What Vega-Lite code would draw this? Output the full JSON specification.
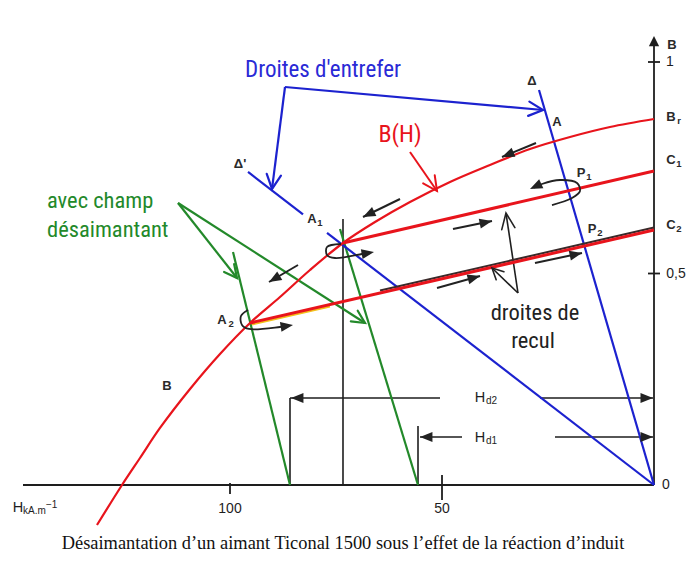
{
  "$schema": "https://vega.github.io/schema/vega-lite/v6.json",
  "width": 696,
  "height": 563,
  "autosize": {"type": "fit", "contains": "padding"},
  "padding": 0,
  "background": "white",
  "config": {"view": {"stroke": null}},
  "datasets": {
    "L": [
      {"g":"ax","id":"hx","o":1,"H":148.82,"B":0},{"g":"ax","id":"hx","o":2,"H":0,"B":0},
      {"g":"ax","id":"vy","o":1,"H":0,"B":0},{"g":"ax","id":"vy","o":2,"H":0,"B":1.0402},
      {"g":"ax","id":"t1","o":1,"H":1.42,"B":1},{"g":"ax","id":"t1","o":2,"H":-1.42,"B":1},
      {"g":"ax","id":"t05","o":1,"H":1.42,"B":0.5},{"g":"ax","id":"t05","o":2,"H":-1.42,"B":0.5},
      {"g":"ax","id":"t100","o":1,"H":100,"B":0.005},{"g":"ax","id":"t100","o":2,"H":100,"B":-0.021},
      {"g":"ax","id":"t50","o":1,"H":50,"B":0.0236},{"g":"ax","id":"t50","o":2,"H":50,"B":-0.0355},

      {"g":"bk","id":"vA1","o":1,"H":73.35,"B":0.6288},{"g":"bk","id":"vA1","o":2,"H":73.35,"B":0},
      {"g":"bk","id":"vd2","o":1,"H":85.85,"B":0.2057},{"g":"bk","id":"vd2","o":2,"H":85.85,"B":0},
      {"g":"bk","id":"d2l","o":1,"H":85.85,"B":0.2057},{"g":"bk","id":"d2l","o":2,"H":50.47,"B":0.2057},
      {"g":"bk","id":"d2r","o":1,"H":26.89,"B":0.2057},{"g":"bk","id":"d2r","o":2,"H":0.24,"B":0.2057},
      {"g":"bk","id":"vd1","o":1,"H":55.66,"B":0.1395},{"g":"bk","id":"vd1","o":2,"H":55.66,"B":0},
      {"g":"bk","id":"d1l","o":1,"H":45.28,"B":0.1135},{"g":"bk","id":"d1l","o":2,"H":55.19,"B":0.1135},
      {"g":"bk","id":"d1r","o":1,"H":23.35,"B":0.1135},{"g":"bk","id":"d1r","o":2,"H":0.24,"B":0.1135},
      {"g":"bk","id":"rc1","o":1,"H":32.08,"B":0.4539},{"g":"bk","id":"rc1","o":2,"H":34.91,"B":0.643},
      {"g":"bk","id":"rc2","o":1,"H":32.08,"B":0.4539},{"g":"bk","id":"rc2","o":2,"H":38.21,"B":0.513},

      {"g":"gr","id":"g1","o":1,"H":99.29,"B":0.5508},{"g":"gr","id":"g1","o":2,"H":85.85,"B":0},
      {"g":"gr","id":"g2","o":1,"H":74.06,"B":0.6052},{"g":"gr","id":"g2","o":2,"H":55.66,"B":0},
      {"g":"gr","id":"a1","o":1,"H":112.26,"B":0.6667},{"g":"gr","id":"a1","o":2,"H":98.35,"B":0.4894},
      {"g":"gr","id":"a2","o":1,"H":112.26,"B":0.6667},{"g":"gr","id":"a2","o":2,"H":68.16,"B":0.383},

      {"g":"bl","id":"d","o":1,"H":27.12,"B":0.9338},{"g":"bl","id":"d","o":2,"H":0,"B":0},
      {"g":"bl","id":"dp1","o":1,"H":95.75,"B":0.74},{"g":"bl","id":"dp1","o":2,"H":82.78,"B":0.6397},
      {"g":"bl","id":"dp2","o":1,"H":77.12,"B":0.596},{"g":"bl","id":"dp2","o":2,"H":0,"B":0},
      {"g":"bl","id":"an1","o":1,"H":87.03,"B":0.9409},{"g":"bl","id":"an1","o":2,"H":26.18,"B":0.8865},
      {"g":"bl","id":"an2","o":1,"H":87.03,"B":0.9409},{"g":"bl","id":"an2","o":2,"H":90.09,"B":0.6998},

      {"g":"yl","id":"y","o":1,"H":94.81,"B":0.3794},{"g":"yl","id":"y","o":2,"H":76.42,"B":0.4218},
      {"g":"dk","id":"k","o":1,"H":64.62,"B":0.4596},{"g":"dk","id":"k","o":2,"H":0,"B":0.6087},
      {"g":"rec","id":"c1","o":1,"H":73.35,"B":0.5721},{"g":"rec","id":"c1","o":2,"H":0,"B":0.7423},
      {"g":"rec","id":"c2","o":1,"H":95.28,"B":0.383},{"g":"rec","id":"c2","o":2,"H":0,"B":0.6028},

      {"g":"bh","id":"bh","o":1,"H":0,"B":0.8652},
      {"g":"bh","id":"bh","o":2,"H":10.38,"B":0.8463},
      {"g":"bh","id":"bh","o":3,"H":19.81,"B":0.8227},
      {"g":"bh","id":"bh","o":4,"H":29.25,"B":0.7943},
      {"g":"bh","id":"bh","o":5,"H":38.68,"B":0.7565},
      {"g":"bh","id":"bh","o":6,"H":48.11,"B":0.7163},
      {"g":"bh","id":"bh","o":7,"H":57.55,"B":0.669},
      {"g":"bh","id":"bh","o":8,"H":65.8,"B":0.6217},
      {"g":"bh","id":"bh","o":9,"H":73.35,"B":0.5721},
      {"g":"bh","id":"bh","o":10,"H":81.13,"B":0.5083},
      {"g":"bh","id":"bh","o":11,"H":88.21,"B":0.4444},
      {"g":"bh","id":"bh","o":12,"H":95.28,"B":0.383},
      {"g":"bh","id":"bh","o":13,"H":102.36,"B":0.3097},
      {"g":"bh","id":"bh","o":14,"H":109.43,"B":0.227},
      {"g":"bh","id":"bh","o":15,"H":116.51,"B":0.1348},
      {"g":"bh","id":"bh","o":16,"H":121.23,"B":0.0638},
      {"g":"bh","id":"bh","o":17,"H":125.47,"B":0},
      {"g":"bh","id":"bh","o":18,"H":131.37,"B":-0.0946},

      {"g":"rd","id":"bha","o":1,"H":57.55,"B":0.7872},{"g":"rd","id":"bha","o":2,"H":51.18,"B":0.695},

      {"g":"ar","id":"ar1","o":1,"H":27.83,"B":0.8085},{"g":"ar","id":"ar1","o":2,"H":35.85,"B":0.7754},
      {"g":"ar","id":"ar2","o":1,"H":59.91,"B":0.6761},{"g":"ar","id":"ar2","o":2,"H":68.63,"B":0.6336},
      {"g":"ar","id":"ar3","o":1,"H":83.96,"B":0.5201},{"g":"ar","id":"ar3","o":2,"H":90.8,"B":0.4799},
      {"g":"ar","id":"ar4","o":1,"H":47.41,"B":0.6052},{"g":"ar","id":"ar4","o":2,"H":38.21,"B":0.6241},
      {"g":"ar","id":"ar5","o":1,"H":51.18,"B":0.4657},{"g":"ar","id":"ar5","o":2,"H":41.04,"B":0.4941},
      {"g":"ar","id":"ar6","o":1,"H":28.07,"B":0.5248},{"g":"ar","id":"ar6","o":2,"H":16.98,"B":0.5485},

      {"g":"lp","id":"lA1","o":1,"H":73.82,"B":0.5697},
      {"g":"lp","id":"lA1","o":2,"H":77.12,"B":0.5626},
      {"g":"lp","id":"lA1","o":3,"H":77.12,"B":0.5437},
      {"g":"lp","id":"lA1","o":4,"H":75.24,"B":0.5366},
      {"g":"lp","id":"lA1","o":5,"H":68.87,"B":0.5461},
      {"g":"lp","id":"lA1","o":6,"H":67.45,"B":0.5485},
      {"g":"lp","id":"lA2","o":1,"H":95.75,"B":0.4137},
      {"g":"lp","id":"lA2","o":2,"H":97.41,"B":0.3995},
      {"g":"lp","id":"lA2","o":3,"H":97.17,"B":0.3783},
      {"g":"lp","id":"lA2","o":4,"H":95.52,"B":0.3688},
      {"g":"lp","id":"lA2","o":5,"H":88.21,"B":0.3735},
      {"g":"lp","id":"lA2","o":6,"H":86.5,"B":0.376},
      {"g":"lp","id":"lP1","o":1,"H":24.06,"B":0.6619},
      {"g":"lp","id":"lP1","o":2,"H":19.34,"B":0.6785},
      {"g":"lp","id":"lP1","o":3,"H":17.45,"B":0.695},
      {"g":"lp","id":"lP1","o":4,"H":18.16,"B":0.7139},
      {"g":"lp","id":"lP1","o":5,"H":22.17,"B":0.721},
      {"g":"lp","id":"lP1","o":6,"H":26.42,"B":0.7116},
      {"g":"lp","id":"lP1","o":7,"H":28.3,"B":0.703}
    ],
    "P": [
      {"g":"blV","H":26.18,"B":0.8865,"a":5.1},
      {"g":"blV","H":90.09,"B":0.6998,"a":97.3},
      {"g":"grV","H":98.35,"B":0.4894,"a":51.8},
      {"g":"grV","H":68.16,"B":0.383,"a":32.7},
      {"g":"rdV","H":51.18,"B":0.695,"a":55.3},
      {"g":"bkV","H":34.91,"B":0.643,"a":-98.5},
      {"g":"bkv","H":38.21,"B":0.513,"a":-136.1},
      {"g":"bkF","H":35.85,"B":0.7754,"a":157.6},
      {"g":"bkF","H":68.63,"B":0.6336,"a":154.1},
      {"g":"bkF","H":90.8,"B":0.4799,"a":149.6},
      {"g":"bkF","H":38.21,"B":0.6241,"a":-11.6},
      {"g":"bkF","H":41.04,"B":0.4941,"a":-15.6},
      {"g":"bkF","H":16.98,"B":0.5485,"a":-12},
      {"g":"bkF","H":66.04,"B":0.5508,"a":-10},
      {"g":"bkF","H":85.14,"B":0.3783,"a":-9},
      {"g":"bkF","H":29.25,"B":0.6998,"a":155},
      {"g":"bkF","H":85.61,"B":0.2057,"a":180},
      {"g":"bkF","H":0.24,"B":0.2057,"a":0},
      {"g":"bkF","H":55.19,"B":0.1135,"a":180},
      {"g":"bkF","H":0.24,"B":0.1135,"a":0},
      {"g":"axU","H":0,"B":1.0615,"a":-90}
    ],
    "T": [
      {"g":"nbl","t":"Droites d'entrefer","H":78.07,"B":0.9811},
      {"g":"nrd","t":"B(H)","H":59.91,"B":0.8274},
      {"g":"ngr","t":"avec champ","H":143.16,"B":0.6548},
      {"g":"ngr","t":"désaimantant","H":143.16,"B":0.5863},
      {"g":"nbk","t":"droites de","H":28.07,"B":0.3901},
      {"g":"nbk","t":"recul","H":28.54,"B":0.3239},
      {"g":"lbl","t":"A","H":22.88,"B":0.8582},
      {"g":"lbl","t":"Δ","H":28.77,"B":0.9551},
      {"g":"lbl","t":"Δ'","H":97.64,"B":0.7589},
      {"g":"lbl","t":"A","H":80.66,"B":0.6288},
      {"g":"lbl","t":"A","H":101.89,"B":0.3901},
      {"g":"lbl","t":"P","H":17.22,"B":0.7376},
      {"g":"lbl","t":"P","H":14.62,"B":0.6052},
      {"g":"lbl","t":"B","H":114.86,"B":0.234},
      {"g":"lbl","t":"B","H":-4.25,"B":1.0402},
      {"g":"lbl","t":"B","H":-4.01,"B":0.87},
      {"g":"lbl","t":"C","H":-4.01,"B":0.7683},
      {"g":"lbl","t":"C","H":-4.01,"B":0.6147},
      {"g":"sub","t":"1","H":78.77,"B":0.6194},
      {"g":"sub","t":"2","H":99.76,"B":0.3806},
      {"g":"sub","t":"1","H":15.33,"B":0.7281},
      {"g":"sub","t":"2","H":12.74,"B":0.5957},
      {"g":"sub","t":"r","H":-5.9,"B":0.8605},
      {"g":"sub","t":"1","H":-5.9,"B":0.7589},
      {"g":"sub","t":"2","H":-5.9,"B":0.6052},
      {"g":"tk","t":"1","H":-3.77,"B":1.0},
      {"g":"tk","t":"0,5","H":-5.19,"B":0.4988},
      {"g":"tk","t":"0","H":-2.83,"B":0},
      {"g":"tk","t":"100","H":100,"B":-0.0567},
      {"g":"tk","t":"50","H":50,"B":-0.0567},
      {"g":"hd","t":"H","H":41.04,"B":0.2057},
      {"g":"hd","t":"H","H":41.04,"B":0.1111},
      {"g":"hds","t":"d2","H":39.62,"B":0.1986},
      {"g":"hds","t":"d1","H":39.62,"B":0.104},
      {"g":"hax","t":"H","H":150.0,"B":-0.0544},
      {"g":"haxs","t":"kA.m","H":148.82,"B":-0.0615},
      {"g":"haxs","t":"−1","H":143.4,"B":-0.0473},
      {"g":"cap","t":"Désaimantation d’un aimant Ticonal 1500 sous l’effet de la réaction d’induit","H":73.35,"B":-0.1513}
    ]
  },
  "encoding": {
    "x": {"field": "H", "type": "quantitative", "scale": {"domain": [-9.906, 154.245], "reverse": true, "nice": false, "zero": false}, "axis": null},
    "y": {"field": "B", "type": "quantitative", "scale": {"domain": [-0.1844, 1.14657], "nice": false, "zero": false}, "axis": null}
  },
  "layer": [
    {"data": {"name": "L"}, "transform": [{"filter": "datum.g === 'ax'"}],
     "mark": {"type": "line", "color": "#1e1e1e", "strokeWidth": 1.8},
     "encoding": {"detail": {"field": "id"}, "order": {"field": "o"}}},
    {"data": {"name": "L"}, "transform": [{"filter": "datum.g === 'bk'"}],
     "mark": {"type": "line", "color": "#1e1e1e", "strokeWidth": 1.6},
     "encoding": {"detail": {"field": "id"}, "order": {"field": "o"}}},
    {"data": {"name": "L"}, "transform": [{"filter": "datum.g === 'gr'"}],
     "mark": {"type": "line", "color": "#23892a", "strokeWidth": 2.2},
     "encoding": {"detail": {"field": "id"}, "order": {"field": "o"}}},
    {"data": {"name": "L"}, "transform": [{"filter": "datum.g === 'bl'"}],
     "mark": {"type": "line", "color": "#1c22cf", "strokeWidth": 2.2},
     "encoding": {"detail": {"field": "id"}, "order": {"field": "o"}}},
    {"data": {"name": "L"}, "transform": [{"filter": "datum.g === 'yl'"}],
     "mark": {"type": "line", "color": "#f2c21b", "strokeWidth": 2},
     "encoding": {"detail": {"field": "id"}, "order": {"field": "o"}}},
    {"data": {"name": "L"}, "transform": [{"filter": "datum.g === 'dk'"}],
     "mark": {"type": "line", "color": "#3a2a2a", "strokeWidth": 2},
     "encoding": {"detail": {"field": "id"}, "order": {"field": "o"}}},
    {"data": {"name": "L"}, "transform": [{"filter": "datum.g === 'rec'"}],
     "mark": {"type": "line", "color": "#e8141c", "strokeWidth": 3},
     "encoding": {"detail": {"field": "id"}, "order": {"field": "o"}}},
    {"data": {"name": "L"}, "transform": [{"filter": "datum.g === 'bh'"}],
     "mark": {"type": "line", "color": "#e8141c", "strokeWidth": 2.2, "interpolate": "catmull-rom"},
     "encoding": {"detail": {"field": "id"}, "order": {"field": "o"}}},
    {"data": {"name": "L"}, "transform": [{"filter": "datum.g === 'rd'"}],
     "mark": {"type": "line", "color": "#e8141c", "strokeWidth": 2},
     "encoding": {"detail": {"field": "id"}, "order": {"field": "o"}}},
    {"data": {"name": "L"}, "transform": [{"filter": "datum.g === 'ar'"}],
     "mark": {"type": "line", "color": "#222222", "strokeWidth": 2},
     "encoding": {"detail": {"field": "id"}, "order": {"field": "o"}}},
    {"data": {"name": "L"}, "transform": [{"filter": "datum.g === 'lp'"}],
     "mark": {"type": "line", "color": "#222222", "strokeWidth": 1.8, "interpolate": "catmull-rom"},
     "encoding": {"detail": {"field": "id"}, "order": {"field": "o"}}},

    {"data": {"name": "P"}, "transform": [{"filter": "datum.g === 'blV'"}],
     "mark": {"type": "point", "shape": "M-1,-0.5L0,0L-1,0.5", "size": 820, "filled": false, "color": "#1c22cf", "strokeWidth": 2.2, "opacity": 1, "strokeCap": "round"},
     "encoding": {"angle": {"field": "a", "type": "quantitative", "scale": null}}},
    {"data": {"name": "P"}, "transform": [{"filter": "datum.g === 'grV'"}],
     "mark": {"type": "point", "shape": "M-1,-0.5L0,0L-1,0.5", "size": 650, "filled": false, "color": "#23892a", "strokeWidth": 2.2, "opacity": 1, "strokeCap": "round"},
     "encoding": {"angle": {"field": "a", "type": "quantitative", "scale": null}}},
    {"data": {"name": "P"}, "transform": [{"filter": "datum.g === 'rdV'"}],
     "mark": {"type": "point", "shape": "M-1,-0.5L0,0L-1,0.5", "size": 800, "filled": false, "color": "#e8141c", "strokeWidth": 2, "opacity": 1, "strokeCap": "round"},
     "encoding": {"angle": {"field": "a", "type": "quantitative", "scale": null}}},
    {"data": {"name": "P"}, "transform": [{"filter": "datum.g === 'bkV'"}],
     "mark": {"type": "point", "shape": "M-1,-0.42L0,0L-1,0.42", "size": 1000, "filled": false, "color": "#222222", "strokeWidth": 1.6, "opacity": 1, "strokeCap": "round"},
     "encoding": {"angle": {"field": "a", "type": "quantitative", "scale": null}}},
    {"data": {"name": "P"}, "transform": [{"filter": "datum.g === 'bkv'"}],
     "mark": {"type": "point", "shape": "M-1,-0.5L0,0L-1,0.5", "size": 500, "filled": false, "color": "#222222", "strokeWidth": 1.6, "opacity": 1, "strokeCap": "round"},
     "encoding": {"angle": {"field": "a", "type": "quantitative", "scale": null}}},
    {"data": {"name": "P"}, "transform": [{"filter": "datum.g === 'bkF'"}],
     "mark": {"type": "point", "shape": "M0,0L-1,-0.4L-1,0.4Z", "size": 620, "filled": true, "color": "#222222", "opacity": 1},
     "encoding": {"angle": {"field": "a", "type": "quantitative", "scale": null}}},
    {"data": {"name": "P"}, "transform": [{"filter": "datum.g === 'axU'"}],
     "mark": {"type": "point", "shape": "M0,0L-1,-0.5L-1,0.5Z", "size": 420, "filled": true, "color": "#1e1e1e", "opacity": 1},
     "encoding": {"angle": {"field": "a", "type": "quantitative", "scale": null}}},

    {"data": {"name": "T"}, "transform": [{"filter": "datum.g === 'nbl'"}],
     "mark": {"type": "text", "font": "Liberation Sans Narrow, Roboto Condensed, DejaVu Sans Condensed, Liberation Sans", "fontSize": 23, "color": "#2a2ad6", "align": "center", "baseline": "middle"},
     "encoding": {"text": {"field": "t"}}},
    {"data": {"name": "T"}, "transform": [{"filter": "datum.g === 'nrd'"}],
     "mark": {"type": "text", "font": "Liberation Sans Narrow, Roboto Condensed, DejaVu Sans Condensed, Liberation Sans", "fontSize": 24, "color": "#e8141c", "align": "center", "baseline": "middle"},
     "encoding": {"text": {"field": "t"}}},
    {"data": {"name": "T"}, "transform": [{"filter": "datum.g === 'ngr'"}],
     "mark": {"type": "text", "font": "Liberation Sans Narrow, Roboto Condensed, DejaVu Sans Condensed, Liberation Sans", "fontSize": 22.5, "color": "#23892a", "align": "left", "baseline": "alphabetic"},
     "encoding": {"text": {"field": "t"}}},
    {"data": {"name": "T"}, "transform": [{"filter": "datum.g === 'nbk'"}],
     "mark": {"type": "text", "font": "Liberation Sans Narrow, Roboto Condensed, DejaVu Sans Condensed, Liberation Sans", "fontSize": 22.5, "color": "#222222", "align": "center", "baseline": "alphabetic"},
     "encoding": {"text": {"field": "t"}}},
    {"data": {"name": "T"}, "transform": [{"filter": "datum.g === 'lbl'"}],
     "mark": {"type": "text", "font": "Liberation Sans", "fontSize": 13, "fontWeight": "bold", "color": "#2a2a2a", "align": "center", "baseline": "middle"},
     "encoding": {"text": {"field": "t"}}},
    {"data": {"name": "T"}, "transform": [{"filter": "datum.g === 'sub'"}],
     "mark": {"type": "text", "font": "Liberation Sans", "fontSize": 9.5, "fontWeight": "bold", "color": "#2a2a2a", "align": "center", "baseline": "middle"},
     "encoding": {"text": {"field": "t"}}},
    {"data": {"name": "T"}, "transform": [{"filter": "datum.g === 'tk'"}],
     "mark": {"type": "text", "font": "Liberation Sans", "fontSize": 14, "color": "#1e1e1e", "align": "center", "baseline": "middle"},
     "encoding": {"text": {"field": "t"}}},
    {"data": {"name": "T"}, "transform": [{"filter": "datum.g === 'hd' || datum.g === 'hax'"}],
     "mark": {"type": "text", "font": "Liberation Sans", "fontSize": 14.5, "color": "#1e1e1e", "align": "center", "baseline": "middle"},
     "encoding": {"text": {"field": "t"}}},
    {"data": {"name": "T"}, "transform": [{"filter": "datum.g === 'hds' || datum.g === 'haxs'"}],
     "mark": {"type": "text", "font": "Liberation Sans", "fontSize": 10, "color": "#1e1e1e", "align": "left", "baseline": "middle"},
     "encoding": {"text": {"field": "t"}}},
    {"data": {"name": "T"}, "transform": [{"filter": "datum.g === 'cap'"}],
     "mark": {"type": "text", "font": "Liberation Serif", "fontSize": 18.4, "color": "#111111", "align": "center", "baseline": "alphabetic"},
     "encoding": {"text": {"field": "t"}}}
  ]
}
